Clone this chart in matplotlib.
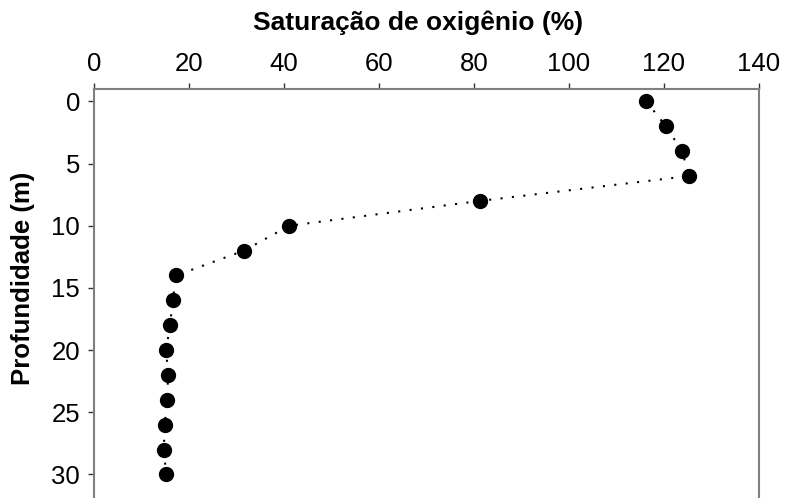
"""Dissolved oxygen saturation profile by depth."""
import matplotlib
matplotlib.use("Agg")
import matplotlib.pyplot as plt

plt.rcParams['font.family'] = ['Liberation Sans', 'DejaVu Sans']

depth = [0, 2, 4, 6, 8, 10, 12, 14, 16, 18, 20, 22, 24, 26, 28, 30]
saturation = [116.3, 120.4, 123.8, 125.3, 81.3, 41.1, 31.6, 17.3,
              16.6, 16.0, 15.2, 15.6, 15.4, 14.9, 14.7, 15.2]
x_ticks = [0, 20, 40, 60, 80, 100, 120, 140]
y_ticks = [0, 5, 10, 15, 20, 25, 30]

fig = plt.figure(figsize=(7.87, 4.98), dpi=100)
ax = fig.add_axes([0.1194, 0.0, 0.845, 0.8213])

ax.plot(saturation, depth, color='black', linestyle=(0, (1, 4.5)), linewidth=1.5,
        marker='o', markersize=10, markerfacecolor='black', markeredgecolor='black')

ax.set_xlim(0, 140)
ax.set_ylim(31.9, -1.0)
ax.set_xticks(x_ticks)
ax.set_yticks(y_ticks)

ax.xaxis.tick_top()
ax.xaxis.set_label_position('top')
ax.set_xlabel('Saturação de oxigênio (%)', fontsize=19, fontweight='bold', labelpad=16)
ax.set_ylabel('Profundidade (m)', fontsize=18.5, fontweight='bold', labelpad=12)
ax.xaxis.label.set_x(0.488)
ax.yaxis.label.set_y(0.538)

ax.tick_params(axis='both', labelsize=18.5, length=4, width=1, color='#333333')
ax.tick_params(axis='x', pad=5)
ax.tick_params(axis='y', pad=6, right=False)

ax.spines['bottom'].set_visible(False)
for side in ('top', 'left', 'right'):
    ax.spines[side].set_color('#808080')
    ax.spines[side].set_linewidth(1.5)

fig.savefig('out.png', dpi=100)
